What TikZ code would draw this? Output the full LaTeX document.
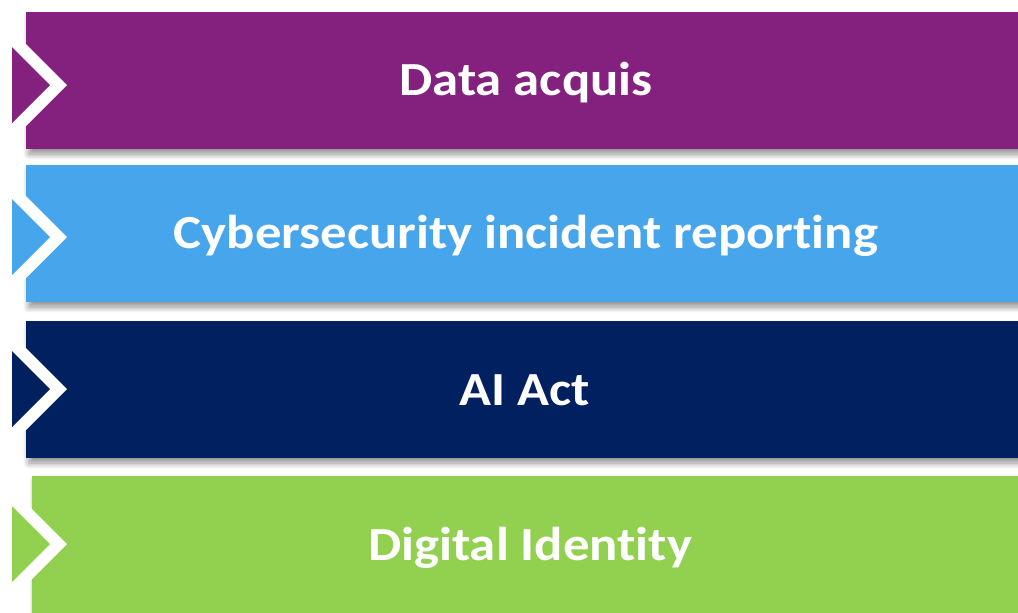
\documentclass[tikz,border=0pt]{standalone}
\usepackage{fontspec}
\setmainfont{Carlito}[Ligatures=NoCommon]
\usetikzlibrary{shadows.blur}
\definecolor{cpurple}{HTML}{84217F}
\definecolor{cblue}{HTML}{47A5EB}
\definecolor{cnavy}{HTML}{002060}
\definecolor{cgreen}{HTML}{92D050}
\tikzset{
  barshadow/.style={blur shadow={shadow xshift=3pt, shadow yshift=-5pt, shadow blur radius=6pt, shadow blur steps=12, shadow opacity=45}},
  label/.style={text=white, font=\fontsize{47.5}{50}\selectfont\bfseries, anchor=base, inner sep=0pt},
}
\newcommand{\chevbar}[5]{% color, left x, top, bottom, tip y
  \fill[#1, barshadow] (#2,#3) rectangle (1030,#4);
  \fill[white] (12,#5-55) -- (67,#5) -- (12,#5+55) -- cycle;
  \fill[#1] (12,#5-38) -- (50,#5) -- (12,#5+38) -- cycle;
}
\newcommand{\wide}[1]{\scalebox{1.11}[1]{#1}}
\begin{document}
\begin{tikzpicture}[x=1pt,y=-1pt]
  \useasboundingbox (0,0) rectangle (1018,613);
  \chevbar{cpurple}{26}{12}{149}{85}
  \chevbar{cblue}{26}{165}{302}{237}
  \chevbar{cnavy}{26}{321}{458}{389}
  \chevbar{cgreen}{32}{476}{625}{544}
  \node[label] (t1) at (526,95) {\wide{Data acquis}};
  \node[label] (t2) at (526,248.5) {\wide{Cybersecurity incident reporting}};
  \node[label] (t3) at (525,405.5) {\wide{AI Act}};
  \node[label] (t4) at (530,560) {\wide{Digital Identity}};
\end{tikzpicture}
\end{document}
